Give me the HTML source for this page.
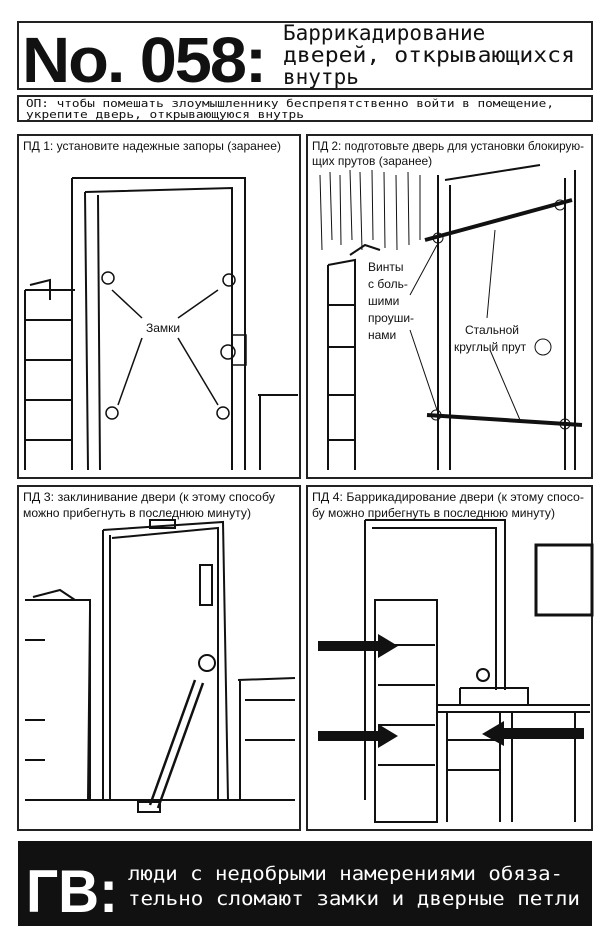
<!DOCTYPE html>
<html><head><meta charset="utf-8"><style>
html,body{margin:0;padding:0;background:#fff;width:609px;height:937px;overflow:hidden}
svg{display:block}
.t{font-family:"Liberation Sans","Noto Sans CJK SC",sans-serif}
.m{font-family:"DejaVu Sans Mono","Liberation Mono",monospace}
</style></head><body>
<svg width="609" height="937" viewBox="0 0 609 937" xmlns="http://www.w3.org/2000/svg">
<g fill="none" stroke="#222" stroke-width="2">
<rect x="18" y="22" width="574" height="67"/>
<rect x="18" y="96" width="574" height="25"/>
<rect x="18" y="135" width="282" height="343"/>
<rect x="307" y="135" width="285" height="343"/>
<rect x="18" y="486" width="282" height="344"/>
<rect x="307" y="486" width="285" height="344"/>
</g>
<text x="22" y="82" class="t" font-size="64" font-weight="bold" letter-spacing="-2" fill="#111" textLength="243" lengthAdjust="spacingAndGlyphs">No. 058:</text>
<text class="m" font-size="21" fill="#111"><tspan x="283" y="40">Баррикадирование</tspan><tspan x="283" y="62" textLength="292" lengthAdjust="spacingAndGlyphs">дверей, открывающихся</tspan><tspan x="283" y="84">внутрь</tspan></text>
<text class="m" font-size="11" fill="#111"><tspan x="26" y="107" textLength="528" lengthAdjust="spacingAndGlyphs">ОП: чтобы помешать злоумышленнику беспрепятственно войти в помещение,</tspan><tspan x="26" y="118" textLength="278" lengthAdjust="spacingAndGlyphs">укрепите дверь, открывающуюся внутрь</tspan></text>

<g class="t" font-size="12" fill="#111">
<text x="23" y="150" textLength="258" lengthAdjust="spacingAndGlyphs">ПД 1: установите надежные запоры (заранее)</text>
<text x="312" y="150" textLength="272" lengthAdjust="spacingAndGlyphs">ПД 2: подготовьте дверь для установки блокирую-</text>
<text x="312" y="165">щих прутов (заранее)</text>
<text x="23" y="501" textLength="252" lengthAdjust="spacingAndGlyphs">ПД 3: заклинивание двери (к этому способу</text>
<text x="23" y="517" textLength="228" lengthAdjust="spacingAndGlyphs">можно прибегнуть в последнюю минуту)</text>
<text x="312" y="501" textLength="272" lengthAdjust="spacingAndGlyphs">ПД 4: Баррикадирование двери (к этому спосо-</text>
<text x="312" y="517" textLength="243" lengthAdjust="spacingAndGlyphs">бу можно прибегнуть в последнюю минуту)</text>
</g>

<!-- Panel 1 -->
<g fill="none" stroke="#111" stroke-width="2">
<path d="M72 178 L245 178 L245 470 M72 178 L72 470"/>
<path d="M85 192 L232 188 L232 470 M85 192 L88 470 M98 195 L100 470"/>
<path d="M25 290 L75 290 M25 290 L25 470 M25 320 L72 320 M25 360 L72 360 M25 400 L72 400 M25 440 L72 440"/>
<path d="M258 395 L298 395 M260 395 L260 470"/>
<path d="M30 285 L50 280 L50 300"/>
</g>
<g fill="none" stroke="#111" stroke-width="1.5">
<circle cx="108" cy="278" r="6"/><circle cx="229" cy="280" r="6"/><circle cx="112" cy="413" r="6"/><circle cx="223" cy="413" r="6"/>
<circle cx="228" cy="352" r="7"/><rect x="232" y="335" width="14" height="30"/>
<path d="M112 290 L142 318 M218 290 L178 318 M142 338 L118 405 M178 338 L218 405"/>
</g>
<text x="146" y="332" class="t" font-size="12" fill="#111">Замки</text>

<!-- Panel 2 -->
<g fill="none" stroke="#111" stroke-width="2">
<path d="M438 175 L438 470 M445 180 L540 165 M565 178 L565 470 M575 170 L575 470 M450 185 L450 470"/>
<path d="M328 265 L355 260 L355 470 M328 265 L328 470 M328 305 L355 305 M328 347 L355 347 M328 395 L355 395 M328 440 L355 440"/>
<path d="M350 255 L365 245 L380 250"/>
<path d="M425 240 L572 200" stroke-width="4"/>
<path d="M427 415 L582 425" stroke-width="4"/>
</g>
<g stroke="#111" stroke-width="1" fill="none">
<path d="M320 175 L322 250 M330 172 L332 240 M340 175 L341 245 M350 170 L352 240 M360 172 L362 250 M372 170 L373 240 M384 172 L385 248 M396 175 L397 250 M408 172 L409 245 M420 175 L420 240"/>
<path d="M437 245 L410 295 M495 230 L487 318 M410 330 L437 410 M490 350 L520 420"/>
<circle cx="543" cy="347" r="8"/><circle cx="438" cy="238" r="5"/><circle cx="560" cy="205" r="5"/><circle cx="436" cy="415" r="5"/><circle cx="565" cy="424" r="5"/>
</g>
<g class="t" font-size="12" fill="#111">
<text x="368" y="271">Винты</text><text x="368" y="288">с боль-</text><text x="368" y="305">шими</text><text x="368" y="322">проуши-</text><text x="368" y="339">нами</text>
<text x="465" y="334">Стальной</text><text x="454" y="351">круглый прут</text>
</g>

<!-- Panel 3 -->
<g fill="none" stroke="#111" stroke-width="2">
<path d="M103 530 L223 522 L228 800 M103 530 L103 800 M110 535 L110 800"/>
<path d="M112 538 L218 528 L218 800"/>
<path d="M25 600 L90 600 L90 800 M25 640 L45 640 M25 720 L45 720 M25 760 L45 760 M90 610 L88 800"/>
<path d="M33 597 L60 590 L75 600"/>
<path d="M238 680 L295 678 M240 680 L240 800 M245 700 L295 700 M245 740 L295 740 M245 800 L295 800"/>
<path d="M25 800 L295 800"/>
<path d="M150 805 L195 680 M158 808 L203 683" stroke-width="2.5"/>
<rect x="138" y="802" width="22" height="10"/>
<rect x="150" y="520" width="25" height="8"/>
<rect x="200" y="565" width="12" height="40"/>
<circle cx="207" cy="663" r="8"/>
</g>

<!-- Panel 4 -->
<g fill="none" stroke="#111" stroke-width="2">
<path d="M365 520 L505 520 L505 690 M365 520 L365 800 M372 528 L496 528 L496 690"/>
<path d="M375 600 L437 600 L437 822 L375 822 Z M378 645 L435 645 M378 685 L435 685 M378 725 L435 725 M378 765 L435 765"/>
<path d="M438 705 L590 705 M438 712 L590 712 M447 712 L447 822 M447 740 L500 740 M447 770 L500 770 M500 712 L500 822 M512 712 L512 822 M575 712 L575 822"/>
<path d="M460 688 L528 688 L528 705 M460 688 L460 705"/>
<rect x="536" y="545" width="56" height="70" stroke-width="3"/>
<circle cx="483" cy="675" r="6"/>
</g>
<g fill="#111">
<path d="M318 641 L378 641 L378 634 L398 646 L378 658 L378 651 L318 651 Z"/>
<path d="M318 731 L378 731 L378 724 L398 736 L378 748 L378 741 L318 741 Z"/>
<path d="M584 728 L504 728 L504 721 L482 734 L504 746 L504 739 L584 739 Z"/>
</g>

<!-- GV bar -->
<rect x="18" y="841" width="574" height="85" fill="#111"/>
<text x="26" y="912" class="t" font-size="60" font-weight="bold" fill="#fff" textLength="92" lengthAdjust="spacingAndGlyphs">ГВ:</text>
<text class="m" font-size="19" fill="#fff"><tspan x="128" y="880" textLength="435" lengthAdjust="spacingAndGlyphs">люди с недобрыми намерениями обяза-</tspan><tspan x="128" y="905" textLength="452" lengthAdjust="spacingAndGlyphs">тельно сломают замки и дверные петли</tspan></text>
</svg>
</body></html>
